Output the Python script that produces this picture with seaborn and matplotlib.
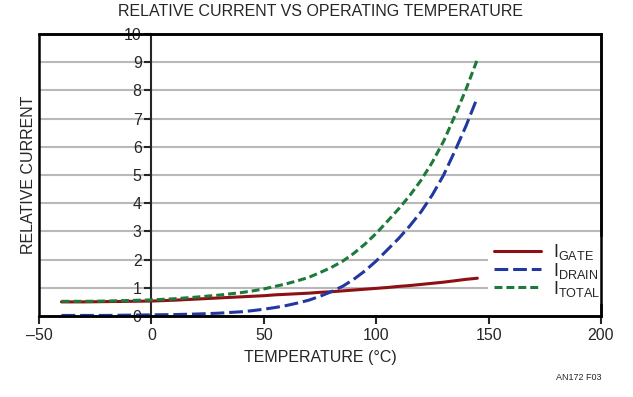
import seaborn as sns
import matplotlib.pyplot as plt
import pandas as pd
from matplotlib.patches import Rectangle

# values
temperature = [-40, -30, -20, -10, 0, 10, 20, 30, 40, 45, 50, 55, 60, 65, 70, 75, 80,
               85, 90, 95, 100, 105, 110, 115, 120, 125, 130, 135, 140, 145]
i_gate = [0.50, 0.50, 0.51, 0.52, 0.53, 0.56, 0.60, 0.64, 0.68, 0.70, 0.72, 0.75, 0.77, 0.79,
          0.81, 0.84, 0.86, 0.89, 0.92, 0.95, 0.98, 1.01, 1.05, 1.08, 1.12, 1.16, 1.20, 1.25,
          1.30, 1.34]
i_drain = [0.02, 0.02, 0.02, 0.03, 0.04, 0.05, 0.07, 0.10, 0.15, 0.19, 0.24, 0.30, 0.37, 0.46,
           0.56, 0.70, 0.86, 1.05, 1.30, 1.60, 1.95, 2.35, 2.75, 3.20, 3.70, 4.30, 5.00, 5.85,
           6.75, 7.75]
i_total = [0.52, 0.52, 0.53, 0.55, 0.57, 0.61, 0.67, 0.74, 0.83, 0.89, 0.96, 1.05, 1.14, 1.25,
           1.37, 1.54, 1.72, 1.94, 2.22, 2.55, 2.93, 3.36, 3.80, 4.28, 4.82, 5.46, 6.20, 7.10,
           8.05, 9.10]

x_ticks = [-50, 0, 50, 100, 150, 200]
x_tick_labels = ["\u201350", "0", "50", "100", "150", "200"]
y_ticks = list(range(0, 11))

sns.set_style("white")
plt.rcParams["font.family"] = ["Liberation Sans", "DejaVu Sans"]
plt.rcParams["mathtext.fontset"] = "custom"
plt.rcParams["mathtext.rm"] = "Liberation Sans"

df = pd.DataFrame({"temp": temperature, "gate": i_gate, "drain": i_drain, "total": i_total})

fig = plt.figure(figsize=(6.33, 3.97), dpi=100)
ax = fig.add_axes([39 / 633, 81 / 397, 562 / 633, 282 / 397])

for y in y_ticks[1:-1]:
    ax.axhline(y, color="#b9b9b9", lw=1.5, zorder=0)

sns.lineplot(data=df, x="temp", y="gate", ax=ax, color="#8e0f14", lw=2.2,
             label=r"I$_{\mathrm{GATE}}$", zorder=3)
sns.lineplot(data=df, x="temp", y="drain", ax=ax, color="#2337a0", lw=2.2,
             label=r"I$_{\mathrm{DRAIN}}$", zorder=3)
sns.lineplot(data=df, x="temp", y="total", ax=ax, color="#1d7a3a", lw=2.2,
             label=r"I$_{\mathrm{TOTAL}}$", zorder=4)
ax.lines[-2].set_linestyle((0, (4.5, 1.6)))
ax.lines[-1].set_linestyle((0, (2.6, 1.3)))

ax.set_xlim(-50, 200)
ax.set_ylim(0, 10)
ax.set_xticks(x_ticks)
ax.set_yticks(y_ticks)
ax.set_xticklabels(x_tick_labels)

ax.spines["left"].set_position(("data", 0))
ax.spines["left"].set_linewidth(1.5)
for side in ["top", "right", "bottom"]:
    ax.spines[side].set_linewidth(1.8)
    ax.spines[side].set_color("black")
ax.add_patch(Rectangle((0, 0), 1, 1, transform=ax.transAxes, fill=False,
                       lw=1.8, ec="black", clip_on=False, zorder=7))

ax.tick_params(axis="x", direction="out", length=6, width=1.5, labelsize=11.5, pad=3, bottom=True)
ax.tick_params(axis="y", direction="out", length=5, width=1.5, labelsize=11.5, pad=2, left=True)

ax.set_xlabel("TEMPERATURE (\u00b0C)", fontsize=11.5, labelpad=5)
ax.set_ylabel("RELATIVE CURRENT", fontsize=11.5)
ax.yaxis.set_label_coords(-0.005, 0.5)
ax.set_title("RELATIVE CURRENT VS OPERATING TEMPERATURE", fontsize=11.5, pad=13)

leg = ax.legend(loc="lower right", bbox_to_anchor=(1.025, 0.01), frameon=True,
                fontsize=13, handlelength=2.6, labelspacing=-0.1,
                borderpad=0.3, handletextpad=0.7)
leg.get_frame().set_edgecolor("none")
leg.get_frame().set_facecolor("white")
leg.get_frame().set_alpha(1)
leg.set_zorder(5)

fig.text(601 / 633, 1 - 377 / 397, "AN172 F03", fontsize=6.5, ha="right", va="center")

fig.savefig("out.png", dpi=100, facecolor="white")
